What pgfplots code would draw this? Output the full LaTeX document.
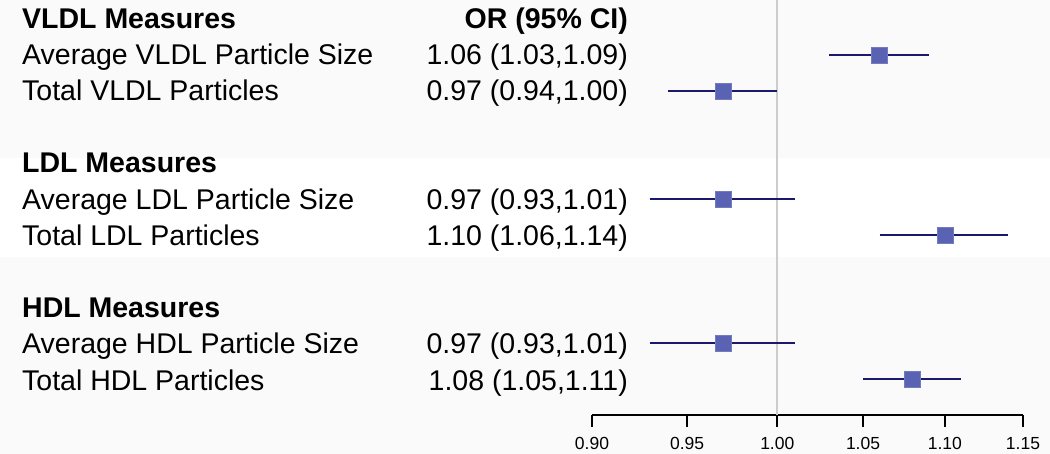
\documentclass[border=0pt]{standalone}
\usepackage{pgfplots}
\pgfplotsset{compat=1.18}
\usepackage{fontspec}
\setmainfont{Liberation Sans}
\definecolor{BandGray}{HTML}{FAFAFA}
\definecolor{CINavy}{HTML}{1A1A6C}
\definecolor{BoxBlue}{HTML}{5A63B3}
\definecolor{RefGray}{HTML}{CCCCCC}

\begin{document}
\begin{tikzpicture}[lbl/.style={inner sep=0pt, font=\fontsize{28.5}{34}\selectfont}]
  % background bands
  \fill[BandGray] (0,0) rectangle (1050pt,-158pt);
  \fill[BandGray] (0,-257pt) rectangle (1050pt,-454pt);
  \useasboundingbox (0,0) rectangle (1050pt,-454pt);

  \begin{axis}[
    at={(592pt,-415pt)}, anchor=south west,
    scale only axis, width=431pt, height=414pt,
    xmode=log, xmin=0.9, xmax=1.15,
    ymin=-11, ymax=0.5,
    axis x line*=bottom, axis y line=none,
    axis line style={black, line width=1.6pt, -},
    xtick={0.9,0.95,1,1.05,1.1,1.15},
    xticklabels={0.90,0.95,1.00,1.05,1.10,1.15},
    tick align=outside, major tick length=12pt,
    tick style={black, line width=1.6pt},
    xticklabel style={font=\fontsize{17.5}{20}\selectfont, yshift=-7pt},
    clip=false,
  ]
    \draw[RefGray, line width=2pt] (axis cs:1,0.53) -- (axis cs:1,-11);
    % confidence intervals
    \addplot[CINavy, line width=2.5pt] coordinates {(1.03,-1) (1.09,-1)};
    \addplot[CINavy, line width=2.5pt] coordinates {(0.94,-2) (1.00,-2)};
    \addplot[CINavy, line width=2.5pt] coordinates {(0.93,-5) (1.01,-5)};
    \addplot[CINavy, line width=2.5pt] coordinates {(1.06,-6) (1.14,-6)};
    \addplot[CINavy, line width=2.5pt] coordinates {(0.93,-9) (1.01,-9)};
    \addplot[CINavy, line width=2.5pt] coordinates {(1.05,-10) (1.11,-10)};
    % point estimates
    \addplot[only marks, mark=square*, mark size=8pt,
      mark options={fill=BoxBlue, draw=BoxBlue!85!white, line width=0.5pt}]
      coordinates {(1.06,-1) (0.97,-2) (0.97,-5) (1.10,-6) (0.97,-9) (1.08,-10)};
  \end{axis}

  % left table
  \node[lbl, anchor=base west, font=\fontsize{28.5}{34}\selectfont\bfseries] at (22pt,-29pt) {VLDL Measures};
  \node[lbl, anchor=base east, font=\fontsize{28.5}{34}\selectfont\bfseries] at (628pt,-29pt) {OR (95\% CI)};
  \node[lbl, anchor=base west] at (22pt,-65pt) {Average VLDL Particle Size};
  \node[lbl, anchor=base east] at (628pt,-65pt) {1.06 (1.03,1.09)};
  \node[lbl, anchor=base west] at (22pt,-101pt) {Total VLDL Particles};
  \node[lbl, anchor=base east] at (628pt,-101pt) {0.97 (0.94,1.00)};

  \node[lbl, anchor=base west, font=\fontsize{28.5}{34}\selectfont\bfseries] at (22pt,-173pt) {LDL Measures};
  \node[lbl, anchor=base west] at (22pt,-209.5pt) {Average LDL Particle Size};
  \node[lbl, anchor=base east] at (628pt,-209.5pt) {0.97 (0.93,1.01)};
  \node[lbl, anchor=base west] at (22pt,-245.5pt) {Total LDL Particles};
  \node[lbl, anchor=base east] at (628pt,-245.5pt) {1.10 (1.06,1.14)};

  \node[lbl, anchor=base west, font=\fontsize{28.5}{34}\selectfont\bfseries] at (22pt,-318pt) {HDL Measures};
  \node[lbl, anchor=base west] at (22pt,-354pt) {Average HDL Particle Size};
  \node[lbl, anchor=base east] at (628pt,-354pt) {0.97 (0.93,1.01)};
  \node[lbl, anchor=base west] at (22pt,-390pt) {Total HDL Particles};
  \node[lbl, anchor=base east] at (628pt,-390pt) {1.08 (1.05,1.11)};
\end{tikzpicture}
\end{document}
